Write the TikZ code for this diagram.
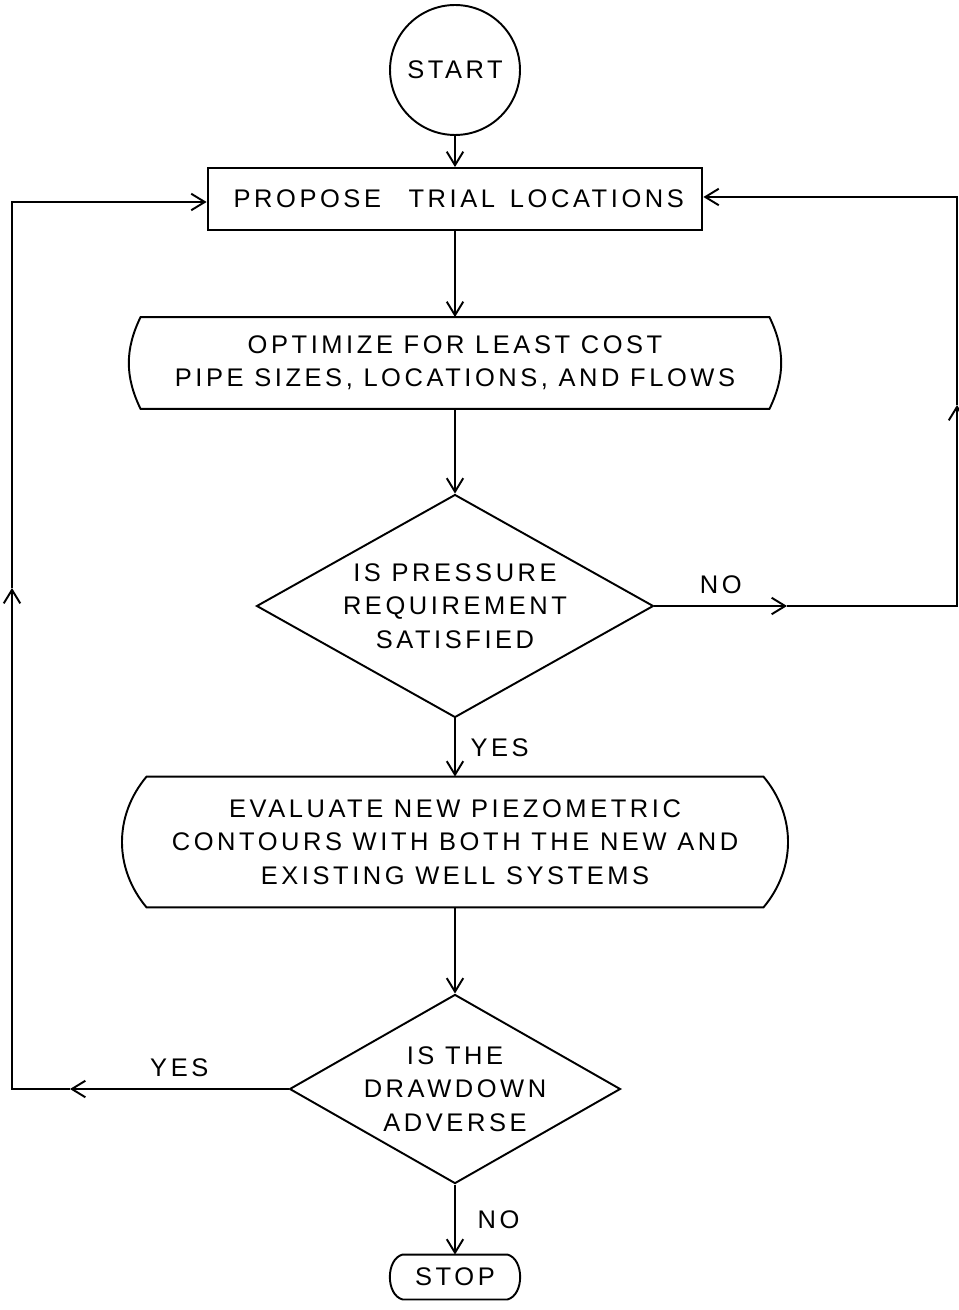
\documentclass[tikz,border=0pt]{standalone}
\usepackage{fontspec}
\setmainfont{Liberation Sans}[LetterSpace=14]
\usepackage{tikz}
\usetikzlibrary{arrows.meta, shapes.geometric}

\begin{document}
\begin{tikzpicture}[x=0.02cm, y=-0.02cm, line width=1.1pt,
        font=\fontsize{14.5}{19}\selectfont,
        tip/.style={-{Straight Barb[length=2.7mm, width=3.3mm]}},
        decision/.style={diamond, draw, inner sep=0pt, align=center},
        process/.style={inner sep=0pt, align=center}]
    \useasboundingbox (0,0) rectangle (958,1310);

    % 开始与试验位置
    \node[circle, draw, minimum size=2.6cm] (start) at (455,70) {START};
    \node[draw, minimum width=9.9cm, minimum height=1.24cm] (propose) at (455,199)
        {\hspace{0.15cm}PROPOSE\hspace{0.55cm}TRIAL\hspace{0.3cm}LOCATIONS};

    % 优化框 (两侧为圆弧)
    \node[process, minimum width=12.54cm, minimum height=1.8cm] (optimize) at (455,363)
        {OPTIMIZE FOR LEAST COST\\PIPE SIZES, LOCATIONS, AND FLOWS};
    \node[decision, minimum width=7.94cm, minimum height=4.46cm, aspect=1.8] (pressure) at (455,606)
        {IS PRESSURE\\REQUIREMENT\\SATISFIED};
    \node[process, minimum width=12.3cm, minimum height=2.58cm] (evaluate) at (455,842)
        {EVALUATE NEW PIEZOMETRIC\\CONTOURS WITH BOTH THE NEW AND\\EXISTING WELL SYSTEMS};
    \node[decision, minimum width=6.34cm, minimum height=3.64cm, aspect=1.75] (drawdown) at (455,1089)
        {IS THE\\DRAWDOWN\\ADVERSE};
    \node[process, minimum width=2.06cm, minimum height=0.86cm] (stop) at (455,1277) {STOP};

    \foreach \n/\b in {optimize/26, evaluate/40, stop/75}
        \draw (\n.north) -- (\n.north east) to[bend left=\b] (\n.south east)
            -- (\n.south west) to[bend left=\b] (\n.north west) -- cycle;

    % 主流程
    \draw[tip] (start) -- (propose);
    \draw[tip] (propose) -- (optimize);
    \draw[tip] (optimize) -- (pressure);
    \draw[tip] (pressure) -- node[right=5pt] {YES} (evaluate);
    \draw[tip] (evaluate) -- (drawdown);
    \draw[tip] (drawdown) -- node[right=9pt] {NO} (stop);

    % NO 回路 (右侧)
    \coordinate (noArr) at (787,606);
    \coordinate (ne) at (957,606);
    \coordinate (neArr) at (957,405);
    \coordinate (nn) at (957,197);
    \draw[tip] (pressure.east) -- node[above=3pt] {NO} (noArr);
    \draw[tip] (noArr) -- (ne) -- (neArr);
    \draw[tip] (neArr) -- (nn) -- (propose.east |- nn);

    % YES 回路 (左侧)
    \coordinate (yesArr) at (70,1089);
    \coordinate (sw) at (12,1089);
    \coordinate (swArr) at (12,588);
    \coordinate (nw) at (12,202);
    \draw[tip] (drawdown.west) -- node[above=3pt] {YES} (yesArr);
    \draw[tip] (yesArr) -- (sw) -- (swArr);
    \draw[tip] (swArr) -- (nw) -- (propose.west |- nw);
\end{tikzpicture}
\end{document}
